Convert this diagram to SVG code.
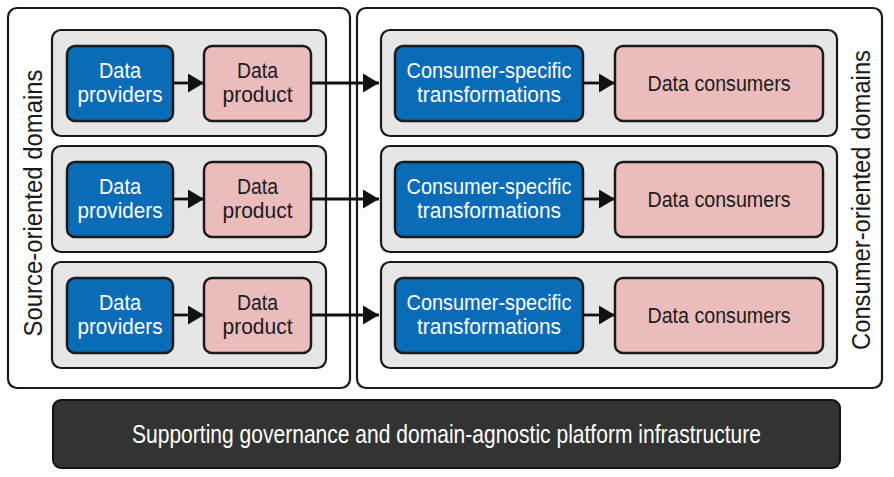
<svg xmlns="http://www.w3.org/2000/svg" width="894" height="477" viewBox="0 0 894 477">
<style>
.outer{fill:#fff;stroke:#1a1a1a;stroke-width:2.2}
.domain{fill:#e6e6e6;stroke:#1a1a1a;stroke-width:2.2}
.blue{fill:#0a6bb7;stroke:#1a1a1a;stroke-width:2.5}
.pink{fill:#ecbcbd;stroke:#1a1a1a;stroke-width:2.5}
.bar{fill:#333333;stroke:#111;stroke-width:2}
text{font-family:"Liberation Sans",Arial,sans-serif;text-anchor:middle}
.wt{fill:#fff;font-size:22.5px}
.bt{fill:#1a1a1a;font-size:22.5px}
.lbl{fill:#1a1a1a;font-size:26px}
.bar-t{fill:#fff;font-size:25px}
.conn{stroke:#111;stroke-width:2.8;fill:none;marker-end:url(#ah)}
</style>
<defs>
<marker id="ah" markerUnits="userSpaceOnUse" markerWidth="17" markerHeight="19" refX="16" refY="9.5" orient="auto">
<path d="M0,0 L16,9.5 L0,19 Z" fill="#111"/>
</marker>
</defs>
<g id="source-domains">
<rect class="outer" x="8" y="8" width="342" height="380" rx="9"/>
<text class="lbl" transform="translate(42,203) rotate(-90)" textLength="267" lengthAdjust="spacingAndGlyphs">Source-oriented domains</text>
</g>
<g id="consumer-domains">
<rect class="outer" x="357" y="8" width="525" height="380" rx="9"/>
<text class="lbl" transform="translate(870,200) rotate(-90)" textLength="300" lengthAdjust="spacingAndGlyphs">Consumer-oriented domains</text>
</g>
<g id="source-row-1"><rect class="domain" x="52" y="30" width="274" height="106" rx="9"/></g>
<g id="source-row-2"><rect class="domain" x="52" y="146" width="274" height="106" rx="9"/></g>
<g id="source-row-3"><rect class="domain" x="52" y="262" width="274" height="106" rx="9"/></g>
<g id="consumer-row-1"><rect class="domain" x="381" y="30" width="456" height="106" rx="9"/></g>
<g id="consumer-row-2"><rect class="domain" x="381" y="146" width="456" height="106" rx="9"/></g>
<g id="consumer-row-3"><rect class="domain" x="381" y="262" width="456" height="106" rx="9"/></g>

<g id="providers-1"><rect class="blue" x="67" y="46" width="106" height="75" rx="8"/>
<text class="wt" x="120" y="78" textLength="42" lengthAdjust="spacingAndGlyphs">Data</text>
<text class="wt" x="120" y="102" textLength="85" lengthAdjust="spacingAndGlyphs">providers</text></g>
<g id="providers-2"><rect class="blue" x="67" y="162" width="106" height="75" rx="8"/>
<text class="wt" x="120" y="194" textLength="42" lengthAdjust="spacingAndGlyphs">Data</text>
<text class="wt" x="120" y="218" textLength="85" lengthAdjust="spacingAndGlyphs">providers</text></g>
<g id="providers-3"><rect class="blue" x="67" y="278" width="106" height="75" rx="8"/>
<text class="wt" x="120" y="310" textLength="42" lengthAdjust="spacingAndGlyphs">Data</text>
<text class="wt" x="120" y="334" textLength="85" lengthAdjust="spacingAndGlyphs">providers</text></g>

<g id="product-1"><rect class="pink" x="204" y="46" width="107" height="75" rx="8"/>
<text class="bt" x="257.5" y="78" textLength="41" lengthAdjust="spacingAndGlyphs">Data</text>
<text class="bt" x="257.5" y="102" textLength="70" lengthAdjust="spacingAndGlyphs">product</text></g>
<g id="product-2"><rect class="pink" x="204" y="162" width="107" height="75" rx="8"/>
<text class="bt" x="257.5" y="194" textLength="41" lengthAdjust="spacingAndGlyphs">Data</text>
<text class="bt" x="257.5" y="218" textLength="70" lengthAdjust="spacingAndGlyphs">product</text></g>
<g id="product-3"><rect class="pink" x="204" y="278" width="107" height="75" rx="8"/>
<text class="bt" x="257.5" y="310" textLength="41" lengthAdjust="spacingAndGlyphs">Data</text>
<text class="bt" x="257.5" y="334" textLength="70" lengthAdjust="spacingAndGlyphs">product</text></g>

<g id="transform-1"><rect class="blue" x="395" y="46" width="188" height="75" rx="8"/>
<text class="wt" x="489" y="78" textLength="165" lengthAdjust="spacingAndGlyphs">Consumer-specific</text>
<text class="wt" x="489" y="102" textLength="144" lengthAdjust="spacingAndGlyphs">transformations</text></g>
<g id="transform-2"><rect class="blue" x="395" y="162" width="188" height="75" rx="8"/>
<text class="wt" x="489" y="194" textLength="165" lengthAdjust="spacingAndGlyphs">Consumer-specific</text>
<text class="wt" x="489" y="218" textLength="144" lengthAdjust="spacingAndGlyphs">transformations</text></g>
<g id="transform-3"><rect class="blue" x="395" y="278" width="188" height="75" rx="8"/>
<text class="wt" x="489" y="310" textLength="165" lengthAdjust="spacingAndGlyphs">Consumer-specific</text>
<text class="wt" x="489" y="334" textLength="144" lengthAdjust="spacingAndGlyphs">transformations</text></g>

<g id="consumers-1"><rect class="pink" x="615" y="46" width="208" height="75" rx="8"/>
<text class="bt" x="719" y="91" textLength="143" lengthAdjust="spacingAndGlyphs">Data consumers</text></g>
<g id="consumers-2"><rect class="pink" x="615" y="162" width="208" height="75" rx="8"/>
<text class="bt" x="719" y="207" textLength="143" lengthAdjust="spacingAndGlyphs">Data consumers</text></g>
<g id="consumers-3"><rect class="pink" x="615" y="278" width="208" height="75" rx="8"/>
<text class="bt" x="719" y="323" textLength="143" lengthAdjust="spacingAndGlyphs">Data consumers</text></g>

<g id="platform"><rect class="bar" x="53" y="400" width="787" height="68" rx="8"/>
<text class="bar-t" x="446.5" y="443" textLength="629" lengthAdjust="spacingAndGlyphs">Supporting governance and domain-agnostic platform infrastructure</text></g>

<g id="connectors">
<line class="conn" x1="173" y1="83" x2="204" y2="83"/>
<line class="conn" x1="311" y1="83" x2="379" y2="83"/>
<line class="conn" x1="583" y1="83" x2="615" y2="83"/>
<line class="conn" x1="173" y1="199" x2="204" y2="199"/>
<line class="conn" x1="311" y1="199" x2="379" y2="199"/>
<line class="conn" x1="583" y1="199" x2="615" y2="199"/>
<line class="conn" x1="173" y1="315" x2="204" y2="315"/>
<line class="conn" x1="311" y1="315" x2="379" y2="315"/>
<line class="conn" x1="583" y1="315" x2="615" y2="315"/>
</g>
</svg>
